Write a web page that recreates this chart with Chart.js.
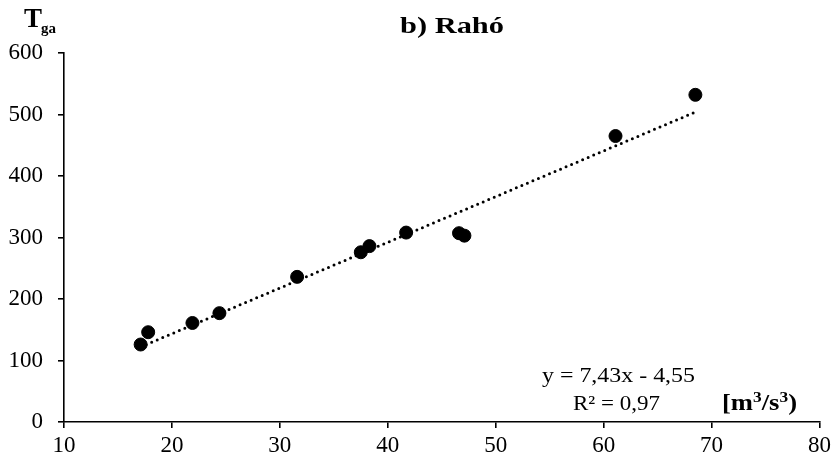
<!DOCTYPE html>
<html>
<head>
<meta charset="utf-8">
<script src="https://cdn.jsdelivr.net/npm/chart.js@4/dist/chart.umd.min.js"></script>
<style>
  html, body { margin: 0; padding: 0; background: #fff; }
  #wrap { width: 835px; height: 460px; }
</style>
</head>
<body>
<div id="wrap"><canvas id="canvas" width="835" height="460"></canvas></div>
<script>
// measured points (Q vs Tga)
var qValues = [17.1, 17.8, 21.9, 24.4, 31.6, 37.5, 38.3, 41.7, 46.6, 47.1, 61.1, 68.5];
var tgaValues = [126, 146, 161, 177, 236, 276, 286, 308, 307, 303, 465, 532];

// trend line ends as drawn in the picture
var trendX = [17.1, 68.5];
var trendY = [122, 504];

var xTicks = [10, 20, 30, 40, 50, 60, 70, 80];
var yTicks = [0, 100, 200, 300, 400, 500, 600];

var chartTitle = 'b) Rahó';
var equationText = 'y = 7,43x - 4,55';
var r2Text = 'R² = 0,97';

var serif = '"Liberation Serif", "Times New Roman", serif';

function toPoints(xs, ys) {
    return xs.map(function (x, i) { return { x: x, y: ys[i] }; });
}

// draw a few text runs squeezed/stretched to a given width
function drawRuns(c, runs, left, baseline, width) {
    var total = 0;
    runs.forEach(function (r) { c.font = r.font; r.w = c.measureText(r.t).width; total += r.w; });
    var sx = width ? width / total : 1;
    c.save();
    c.translate(left, baseline);
    c.scale(sx, 1);
    var x = 0;
    runs.forEach(function (r) {
        c.font = r.font;
        c.fillText(r.t, x, -(r.dy || 0));
        x += r.w;
    });
    c.restore();
}

var textPlugin = {
    id: 'texts',
    afterDraw: function (chart) {
        var c = chart.ctx;
        c.save();
        c.fillStyle = '#000';
        c.textBaseline = 'alphabetic';
        c.textAlign = 'left';

        drawRuns(c, [{ t: chartTitle, font: 'bold 24px ' + serif }], 400, 33, 104);

        drawRuns(c, [{ t: 'T', font: 'bold 27px ' + serif }], 24, 27, 0);
        drawRuns(c, [{ t: 'ga', font: 'bold 15px ' + serif }], 41, 33, 0);

        drawRuns(c, [{ t: equationText, font: '22px ' + serif }], 542, 382, 153);
        drawRuns(c, [{ t: r2Text, font: '22px ' + serif }], 573, 410, 87);

        var b = 'bold 23px ' + serif, sup = 'bold 15px ' + serif;
        drawRuns(c, [
            { t: '[m', font: b },
            { t: '3', font: sup, dy: 8 },
            { t: '/s', font: b },
            { t: '3', font: sup, dy: 8 },
            { t: ')', font: b }
        ], 722, 410, 75);
        c.restore();
    }
};

try {
    var ctx = document.getElementById('canvas').getContext('2d');

    var myChart = new Chart(ctx, {
        type: 'scatter',
        data: {
            datasets: [{
                label: 'Tga',
                data: toPoints(qValues, tgaValues),
                backgroundColor: '#000',
                borderColor: '#000',
                pointRadius: 6.5,
                pointHoverRadius: 6.5
            }, {
                label: 'trend',
                type: 'line',
                data: toPoints(trendX, trendY),
                borderColor: '#000',
                borderWidth: 3,
                borderDash: [0, 6],
                borderCapStyle: 'round',
                pointRadius: 0,
                fill: false,
                order: 2
            }]
        },
        options: {
            responsive: false,
            animation: false,
            layout: { padding: { left: 0, top: 53, right: 15, bottom: 0 } },
            plugins: {
                legend: { display: false },
                tooltip: { enabled: false }
            },
            scales: {
                x: {
                    type: 'linear',
                    min: 10,
                    max: 80,
                    afterFit: function (s) { s.height = 38; },
                    afterBuildTicks: function (s) { s.ticks = xTicks.map(function (v) { return { value: v }; }); },
                    border: { color: '#000', width: 1.6 },
                    grid: { drawOnChartArea: false, drawTicks: true, tickLength: 6, tickColor: '#000', lineWidth: 1.6 },
                    ticks: { color: '#000', padding: 4, font: { family: serif, size: 23 }, maxRotation: 0 }
                },
                y: {
                    type: 'linear',
                    min: 0,
                    max: 600,
                    afterFit: function (s) { s.width = 64; },
                    afterBuildTicks: function (s) { s.ticks = yTicks.map(function (v) { return { value: v }; }); },
                    border: { color: '#000', width: 1.6 },
                    grid: { drawOnChartArea: false, drawTicks: true, tickLength: 6, tickColor: '#000', lineWidth: 1.6 },
                    ticks: { color: '#000', padding: 15, font: { family: serif, size: 23 } }
                }
            }
        },
        plugins: [textPlugin]
    });
} catch (e) {
    console.log(e.message);
}
</script>
</body>
</html>
